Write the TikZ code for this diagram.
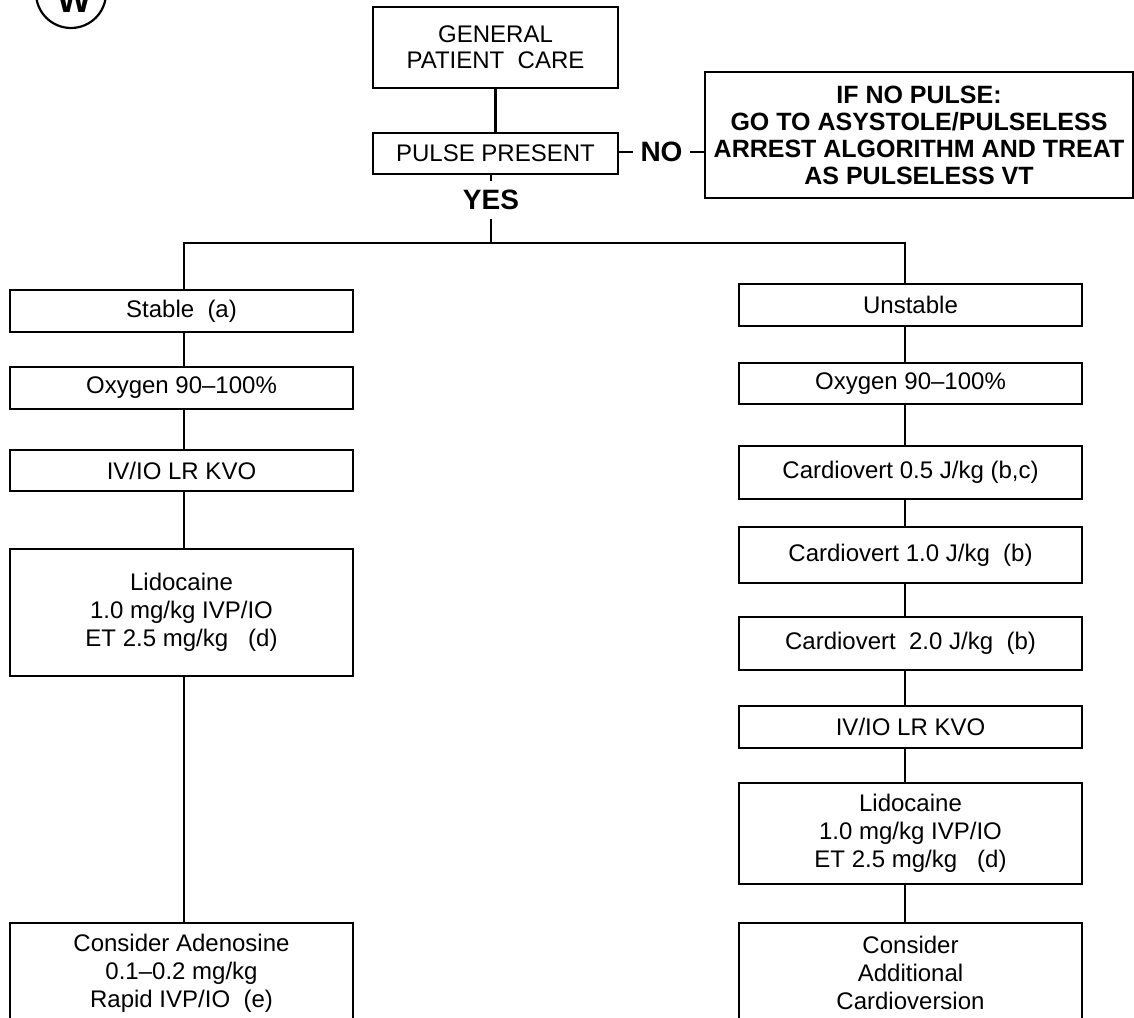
\documentclass[tikz,border=0pt]{standalone}
\usepackage{fontspec}
\setmainfont{Liberation Sans}
\begin{document}
\begin{tikzpicture}[x=0.5pt, y=-0.5pt,
        box/.style={draw, line width=0.9pt, align=center, inner sep=0pt, font=\fontsize{12}{14}\selectfont},
        wbox/.style={box, minimum width=171.5pt},
        lab/.style={font=\bfseries\fontsize{14}{16}\selectfont, inner sep=3.5pt},
        link/.style={line width=1.1pt}]
        \useasboundingbox (0,0) rectangle (1134,1017);
        \clip (0,0) rectangle (1134,1017);
        \node[circle, draw, line width=1.1pt, minimum size=35pt, inner sep=0pt] (logo) at (71,-7) {};
        \node[font=\bfseries\fontsize{18}{18}\selectfont] (logoW) at (74,0) {W};
        \node[box, minimum width=122.5pt, minimum height=40.5pt, font=\fontsize{12}{13}\selectfont] (care) at (495.5,47.5) {GENERAL\\PATIENT\ \ CARE};
        \node[box, minimum width=122.5pt, minimum height=20.5pt] (pulse) at (495.5,153.5) {PULSE PRESENT};
        \node[box, minimum width=214pt, minimum height=63pt, font=\bfseries\fontsize{12.5}{13.5}\selectfont] (nopulse) at (919,135) {IF NO PULSE:\\GO TO ASYSTOLE/PULSELESS\\ARREST ALGORITHM AND TREAT\\AS PULSELESS VT};
        \node[lab] (no) at (661.5,152) {NO};
        \node[lab, inner sep=4.5pt] (yes) at (491,200) {YES};
        \coordinate (split) at (491,243);
        \coordinate (ll) at (184,243);
        \coordinate (rl) at (905,243);
        \node[wbox, minimum height=21pt] (stable) at (181.5,311) {Stable\ \ (a)};
        \node[wbox, minimum height=21pt] (oxyl) at (181.5,388) {Oxygen 90--100\%};
        \node[wbox, minimum height=20.5pt] (ivl) at (181.5,470.5) {IV/IO LR KVO};
        \node[wbox, minimum height=63.5pt] (lidol) at (181.5,612.5) {Lidocaine\\1.0 mg/kg IVP/IO\\ET 2.5 mg/kg\ \ \ (d)};
        \node[wbox, minimum height=50pt, anchor=north] (adeno) at (181.5,922) {Consider Adenosine\\0.1--0.2 mg/kg\\Rapid IVP/IO\ \ (e)};
        \node[wbox, minimum height=21pt] (unstable) at (910.5,305) {Unstable};
        \node[wbox, minimum height=20.5pt] (oxyr) at (910.5,383.5) {Oxygen 90--100\%};
        \node[wbox, minimum height=26.5pt] (cvA) at (910.5,472.5) {Cardiovert 0.5 J/kg (b,c)};
        \node[wbox, minimum height=28pt] (cvB) at (910.5,555) {Cardiovert 1.0 J/kg\ \ (b)};
        \node[wbox, minimum height=26.5pt] (cvC) at (910.5,643.5) {Cardiovert\ \ 2.0 J/kg\ \ (b)};
        \node[wbox, minimum height=21pt] (ivr) at (910.5,727) {IV/IO LR KVO};
        \node[wbox, minimum height=50.5pt] (lidor) at (910.5,833.5) {Lidocaine\\1.0 mg/kg IVP/IO\\ET 2.5 mg/kg\ \ \ (d)};
        \node[wbox, minimum height=50pt, anchor=north] (more) at (910.5,922) {Consider\\Additional\\Cardioversion};
        \draw[link] (care) -- (pulse);
        \draw[link] (no.west -| pulse.east) -- (no.west);
        \draw[link] (no.east) -- (no.east -| nopulse.west);
        \draw[link] (yes |- pulse.south) -- (yes.north);
        \draw[link] (yes.south) -- (split);
        \draw[link] (stable.north -| ll) |- (split) -| (unstable.north -| rl);
        \foreach \a/\b in {stable/oxyl, oxyl/ivl, ivl/lidol, lidol/adeno}
            \draw[link] (\a.south -| ll) -- (\b.north -| ll);
        \foreach \a/\b in {unstable/oxyr, oxyr/cvA, cvA/cvB, cvB/cvC, cvC/ivr, ivr/lidor, lidor/more}
            \draw[link] (\a.south -| rl) -- (\b.north -| rl);
\end{tikzpicture}
\end{document}
